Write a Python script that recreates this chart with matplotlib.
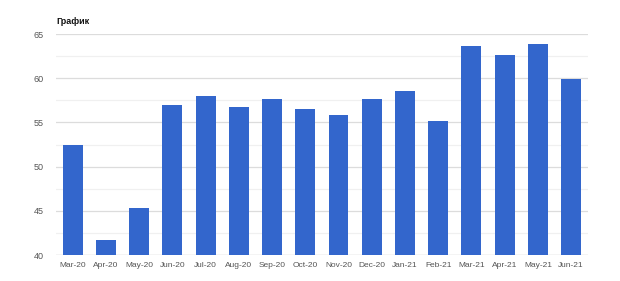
import matplotlib
matplotlib.use("Agg")
import matplotlib.pyplot as plt
from matplotlib.ticker import MultipleLocator

categories = ["Mar-20", "Apr-20", "May-20", "Jun-20", "Jul-20", "Aug-20", "Sep-20", "Oct-20",
              "Nov-20", "Dec-20", "Jan-21", "Feb-21", "Mar-21", "Apr-21", "May-21", "Jun-21"]
values = [52.4, 41.7, 45.3, 57.0, 58.0, 56.7, 57.7, 56.5,
          55.8, 57.6, 58.6, 55.2, 63.6, 62.6, 63.9, 59.9]
yticks = [40, 45, 50, 55, 60, 65]
title = "График"

plt.rcParams['font.family'] = ['Liberation Sans', 'DejaVu Sans']

fig = plt.figure(figsize=(6.2, 2.81), dpi=100)
ax = fig.add_axes([0.0903, 0.0925, 0.8577, 0.7865])

x = list(range(len(categories)))
ax.bar(x, values, width=0.6, color="#3366cc", zorder=3)

ax.set_xlim(-0.5, len(categories) - 0.5)
ax.set_ylim(40, 65)
ax.set_yticks(yticks)
ax.yaxis.set_minor_locator(MultipleLocator(2.5))
ax.grid(axis='y', which='major', color='#dcdcdc', linewidth=0.9, zorder=0)
ax.grid(axis='y', which='minor', color='#f0f0f0', linewidth=0.9, zorder=0)
ax.set_xticks(x)
ax.set_xticklabels(categories)
ax.tick_params(axis='both', which='both', length=0, labelsize=6, labelcolor='#555555')
ax.tick_params(axis='x', pad=5)
ax.tick_params(axis='y', pad=9, labelsize=6.5)
for s in ax.spines.values():
    s.set_visible(False)
ax.axhline(40, color='#cccccc', linewidth=0.9, zorder=2)

fig.text(56 / 620, 1 - 21 / 281, title, fontsize=6.5, fontweight='bold', color='#111111',
         ha='left', va='center')

fig.savefig("out.png", dpi=100, facecolor='white')
